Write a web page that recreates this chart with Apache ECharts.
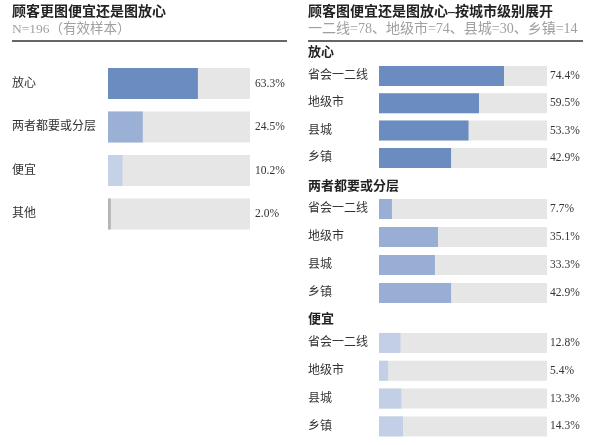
<!DOCTYPE html>
<html><head><meta charset="utf-8">
<script src="https://cdn.jsdelivr.net/npm/echarts@6/dist/echarts.min.js"></script>
<style>html,body{margin:0;padding:0;background:#fff}#c{width:600px;height:445px}</style>
</head><body><div id="c"></div>
<script>
// ---- data ----
const leftTitle = '顾客更图便宜还是图放心';
const leftSubtitle = 'N=196（有效样本）';
const rightTitle = '顾客图便宜还是图放心–按城市级别展开';
const rightSubtitle = '一二线=78、地级市=74、县城=30、乡镇=14';
const leftCategories = ['放心', '两者都要或分层', '便宜', '其他'];
const leftValues = [63.3, 24.5, 10.2, 2.0];
const cityCategories = ['省会一二线', '地级市', '县城', '乡镇'];
const sectionNames = ['放心', '两者都要或分层', '便宜'];
const fangxinValues = [74.4, 59.5, 53.3, 42.9];
const liangzheValues = [7.7, 35.1, 33.3, 42.9];
const pianyiValues = [12.8, 5.4, 13.3, 14.3];

// ---- styles ----
const FONT = "'Liberation Serif','Noto Sans CJK SC',serif";
const TRACK = '#e6e6e6';
const leftColors = ['#6b8cc0', '#9bb0d5', '#c5d1e7', '#b5b5b5'];
const sectionColors = ['#6b8cc0', '#98aed5', '#c3cfe7'];
const rightSectionValues = [fangxinValues, liangzheValues, pianyiValues];

const chart = echarts.init(document.getElementById('c'), null, {renderer: 'canvas'});

const grids = [
  {left: 108, width: 142, top: 61.75, height: 174},
  {left: 379, width: 168, top: 62.3, height: 109.3},
  {left: 379, width: 168, top: 195, height: 112},
  {left: 379, width: 168, top: 329, height: 111.3}
];
const xAxes = grids.map((g, i) => ({gridIndex: i, type: 'value', min: 0, max: 100, show: false}));
const yAxes = grids.map((g, i) => ({
  gridIndex: i, type: 'category', inverse: true,
  data: i === 0 ? leftCategories : cityCategories,
  axisLine: {show: false}, axisTick: {show: false}, splitLine: {show: false},
  axisLabel: {align: 'left', margin: i === 0 ? 96 : 71, color: '#333', fontSize: 12, fontFamily: FONT}
}));

const series = [];
function addGroup(gi, values, colorFn, barW, labelDist) {
  series.push({
    type: 'bar', xAxisIndex: gi, yAxisIndex: gi, barWidth: barW, barGap: '-100%',
    silent: true, animation: false,
    data: values.map(() => 100),
    itemStyle: {color: TRACK},
    label: {show: true, position: 'right', distance: labelDist, color: '#333', fontSize: 11.5, fontFamily: FONT,
      formatter: p => values[p.dataIndex].toFixed(1) + '%'}
  });
  series.push({
    type: 'bar', xAxisIndex: gi, yAxisIndex: gi, barWidth: barW, barGap: '-100%',
    silent: true, animation: false,
    data: values.map((v, k) => ({value: v, itemStyle: {color: colorFn(k)}}))
  });
}
addGroup(0, leftValues, k => leftColors[k], 31, 5);
rightSectionValues.forEach((vals, s) => addGroup(s + 1, vals, () => sectionColors[s], 20, 3));

const sectionY = [53, 187, 320];
const graphic = [
  {type: 'text', style: {text: leftTitle, x: 12, y: 12, verticalAlign: 'middle', font: 'bold 14px ' + FONT, fill: '#222'}},
  {type: 'text', style: {text: leftSubtitle, x: 12, y: 29.5, verticalAlign: 'middle', font: '13.5px ' + FONT, fill: '#a0a0a0'}},
  {type: 'line', shape: {x1: 12, y1: 41, x2: 287, y2: 41}, style: {stroke: '#333', lineWidth: 1.4}},
  {type: 'text', style: {text: rightTitle, x: 308, y: 12, verticalAlign: 'middle', font: 'bold 14px ' + FONT, fill: '#222'}},
  {type: 'text', style: {text: rightSubtitle, x: 308, y: 29.5, verticalAlign: 'middle', font: '14px ' + FONT, fill: '#a0a0a0'}},
  {type: 'line', shape: {x1: 308, y1: 41, x2: 583, y2: 41}, style: {stroke: '#333', lineWidth: 1.4}}
].concat(sectionNames.map((n, i) => ({
  type: 'text', style: {text: n, x: 308, y: sectionY[i], verticalAlign: 'middle', font: 'bold 13px ' + FONT, fill: '#222'}
})));

chart.setOption({
  animation: false,
  backgroundColor: '#fff',
  grid: grids,
  xAxis: xAxes,
  yAxis: yAxes,
  series: series,
  graphic: graphic
});
</script></body></html>
